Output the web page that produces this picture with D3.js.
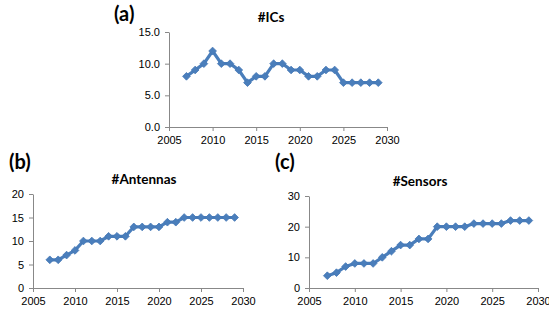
<!DOCTYPE html>
<html>
<head>
<meta charset="utf-8">
<script src="https://cdn.jsdelivr.net/npm/d3@7"></script>
<style>
  body { margin: 0; background: #fff; }
  svg { display: block; font-family: Lato, "Open Sans", sans-serif; }
</style>
</head>
<body>
<svg id="chart" width="549" height="316"></svg>
<script>
const years = d3.range(2007, 2030);
const ics      = [8, 9, 10, 12, 10, 10, 9, 7, 8, 8, 10, 10, 9, 9, 8, 8, 9, 9, 7, 7, 7, 7, 7];
const antennas = [6, 6, 7, 8, 10, 10, 10, 11, 11, 11, 13, 13, 13, 13, 14, 14, 15, 15, 15, 15, 15, 15, 15];
const sensors  = [4, 5, 7, 8, 8, 8, 10, 12, 14, 14, 16, 16, 20, 20, 20, 20, 21, 21, 21, 21, 22, 22, 22];
const xTicks = [2005, 2010, 2015, 2020, 2025, 2030];

const svg = d3.select("#chart");
const lineColor = "#4a7ebb";
const axisColor = "#888";

// one small panel: axes, line, diamond markers, title and letter
function panel({ values, yMax, yStep, yFmt, x0, x1, yTop, yBottom, title, titleX, letter, letterX, letterY }) {
  const x = d3.scaleLinear().domain([2005, 2030]).range([x0, x1]);
  const y = d3.scaleLinear().domain([0, yMax]).range([yBottom, yTop]);
  const g = svg.append("g");

  const xAxis = g.append("g")
    .attr("transform", `translate(0,${yBottom})`)
    .call(d3.axisBottom(x).tickValues(xTicks).tickFormat(d3.format("d")).tickSize(4).tickSizeOuter(0));
  const yAxis = g.append("g")
    .attr("transform", `translate(${x0},0)`)
    .call(d3.axisLeft(y).tickValues(d3.range(0, yMax + 0.001, yStep)).tickFormat(yFmt).tickSize(4).tickSizeOuter(0));

  [xAxis, yAxis].forEach(a => {
    a.select(".domain").attr("stroke", axisColor);
    a.selectAll(".tick line").attr("stroke", axisColor);
    a.selectAll(".tick text").attr("fill", "#000").attr("font-size", 11);
  });
  xAxis.selectAll(".tick text").attr("dy", "0.95em");
  yAxis.selectAll(".tick text").attr("dx", "-2");

  const pts = years.map((yr, i) => [yr, values[i]]);
  g.append("path")
    .datum(pts)
    .attr("fill", "none")
    .attr("stroke", lineColor)
    .attr("stroke-width", 3.2)
    .attr("stroke-linejoin", "round")
    .attr("d", d3.line().x(d => x(d[0])).y(d => y(d[1])));

  g.selectAll("path.mk")
    .data(pts)
    .join("path")
    .attr("class", "mk")
    .attr("fill", lineColor)
    .attr("stroke", "#4276b5")
    .attr("stroke-width", 0.8)
    .attr("transform", d => `translate(${x(d[0])},${y(d[1])})`)
    .attr("d", d3.symbol(d3.symbolDiamond2, 38));

  g.append("text")
    .attr("x", titleX).attr("y", yTop - 10)
    .attr("text-anchor", "middle")
    .attr("font-size", 13.5).attr("font-weight", "bold")
    .text(title);

  g.append("text")
    .attr("x", letterX).attr("y", letterY)
    .attr("font-size", 20).attr("font-weight", "bold")
    .text(letter);
}

panel({ values: ics, yMax: 15, yStep: 5, yFmt: d3.format(".1f"),
  x0: 169, x1: 387, yTop: 32, yBottom: 127,
  title: "#ICs", titleX: 271, letter: "(a)", letterX: 114, letterY: 21 });

panel({ values: antennas, yMax: 20, yStep: 5, yFmt: d3.format("d"),
  x0: 33, x1: 243, yTop: 194, yBottom: 288,
  title: "#Antennas", titleX: 144, letter: "(b)", letterX: 9, letterY: 169 });

panel({ values: sensors, yMax: 30, yStep: 10, yFmt: d3.format("d"),
  x0: 309, x1: 538, yTop: 196, yBottom: 288,
  title: "#Sensors", titleX: 420, letter: "(c)", letterX: 275, letterY: 169 });
</script>
</body>
</html>
